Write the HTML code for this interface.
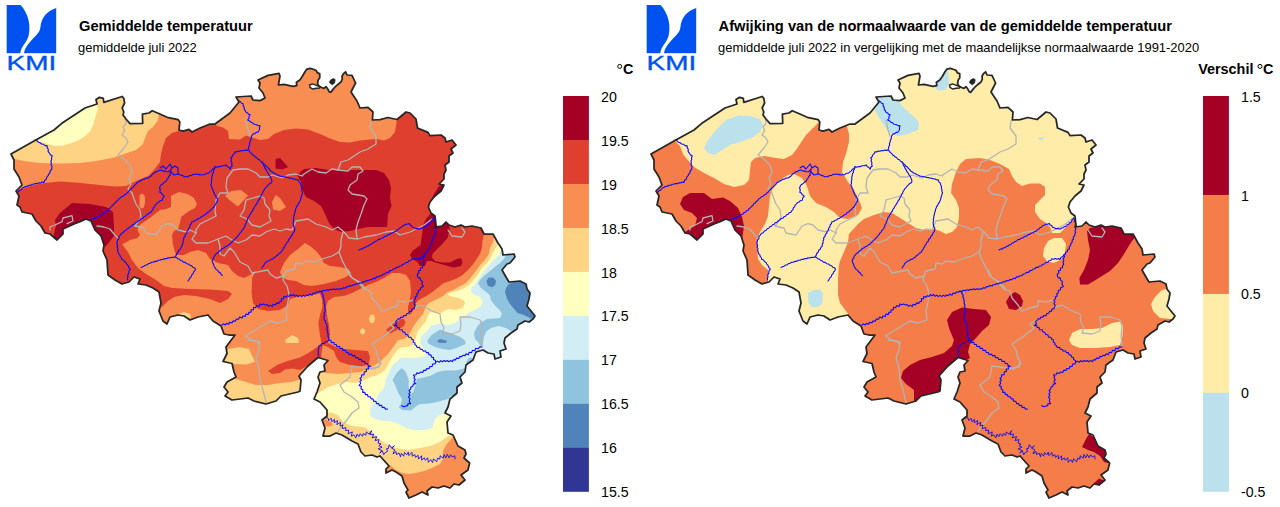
<!DOCTYPE html>
<html><head><meta charset="utf-8"><title>KMI</title>
<style>
html,body{margin:0;padding:0;background:#fff;}
body{width:1280px;height:507px;overflow:hidden;font-family:"Liberation Sans",sans-serif;}
svg{display:block}
text{font-family:"Liberation Sans",sans-serif}
</style></head><body>
<svg width="1280" height="507" viewBox="0 0 1280 507">
<defs>
<clipPath id="be"><polygon points="11,154 34,141 54,130 61.5,123.6 85,108 97,104 96,99.5 99.5,97.3 103.3,98.4 103.8,102.3 122.2,96.5 123.8,98.4 124.6,103 122.2,108 123.8,112 123,115 126,119 130,123.6 142.7,123.3 142.4,114.2 149,113 152.2,110.7 159.3,113.8 167.2,117.3 178.2,119.7 179.8,122 179,130 183,131.2 189,129.4 192,132 200,128 210,124 215,124 230,113 239,102 236,97 251,96 253,100 260,100.6 265,98 263,93 259,88 260,83 258,80 268,75.4 279,73.4 280,76 278.4,85 284,84.4 293,86.3 296.8,85.6 296.4,82.3 299.8,80 302.4,76.3 305,71.8 306.9,69.1 310.3,68.3 314,69.5 316.3,70.6 317.4,72.9 319.7,73.7 319.8,77.8 318.2,80 317.5,83.8 319,86 321.5,87.5 324,88.3 326,86.6 327.6,88.7 329.1,91.7 330.8,92.3 333,89.4 335.2,86.8 338.2,84.2 341.2,81.8 342.3,79 342,76.2 343.8,73.3 345.6,71.8 347,75 352,75.4 355.6,83 351,92 357,101 360,108 368,107.4 373,112 372.4,120 380,119.6 388,117.5 397,119.5 406,112 410,113 416,119 417.5,128 428,132.4 430,135.6 441,135 445,138 446,142 452,140 456,145 451,149 453,153 449,156 449,162 445,165 446,170 444,174 444,179 439,184 444,185 441,191 435,196 430,202 428.4,207 431,213 435,216 436,225 435,227 442,226 446,222 449,225 455,227 461,225 465,227 472,226 481,228 484,234 493,234 498,243 502,249 503,255 514,254 515,257 510,263 507,264 502,270 506,277 509,282 520,281 526,284 527,289 530,293 529,299 527,306 535,316 533,319 529,322 525,321 518,325 517,329 511,333 505,338 504,343 506,349 500,351 501,357 495,359 494,354 488,353 483,350 476,352 473,360 466,365 465,372 460,377 462,383 457,387 457,393 450,399 448,407 445,413 451,416 447,422 448,433 453,435 458,446 465,450 466,454 464,458 469.6,463 468,470 461,475 465,480 459,485 454,484 450,488 444,486 438,488 432,487 427,491 428,495 422,492 416,495 409,498 406,492 408,490 404,483 402,476 396,472 392,470 386,473 386,469 389,466 380,456 377,457 372,455 365,456 361,452 358,444 352,441 342,435 336,433 330,436 323,436 325,428 322,420 327,416 327,410 320,402 314,399 317,392 320,383 318,377 320,372 325,371 324,365 328,360.5 318,357.5 308,366 299,376 301,380 300,391 298,392 281,396 276,401 266,404 254,401 248,398 232,400 225,396 228,392 224,387 227,382 236,377 234,372 232,363.5 223,361.5 227,353.5 226,347 229,343 235,335 229,335 224,334 221,326 213,321 208,315 198,317 190,320 184,316 178,315 170,317 167,324 163,321 159,311 161,303 159,292 153,288 146,285 138,284 140,279 134,277 129,282 122,284 115,280 108,275 107,260 103,251 104,245 101,236 95,230 91,221 86,219 80,221.6 74,224 63,229 63,234 57,240 50,234 45,233 41,226 36,221 32,214 22,212 20,207 17,205 19,196 16,191 22,185 19,177 14,169 14,160"/></clipPath>
<g id="outl"><polygon points="11,154 34,141 54,130 61.5,123.6 85,108 97,104 96,99.5 99.5,97.3 103.3,98.4 103.8,102.3 122.2,96.5 123.8,98.4 124.6,103 122.2,108 123.8,112 123,115 126,119 130,123.6 142.7,123.3 142.4,114.2 149,113 152.2,110.7 159.3,113.8 167.2,117.3 178.2,119.7 179.8,122 179,130 183,131.2 189,129.4 192,132 200,128 210,124 215,124 230,113 239,102 236,97 251,96 253,100 260,100.6 265,98 263,93 259,88 260,83 258,80 268,75.4 279,73.4 280,76 278.4,85 284,84.4 293,86.3 296.8,85.6 296.4,82.3 299.8,80 302.4,76.3 305,71.8 306.9,69.1 310.3,68.3 314,69.5 316.3,70.6 317.4,72.9 319.7,73.7 319.8,77.8 318.2,80 317.5,83.8 319,86 321.5,87.5 324,88.3 326,86.6 327.6,88.7 329.1,91.7 330.8,92.3 333,89.4 335.2,86.8 338.2,84.2 341.2,81.8 342.3,79 342,76.2 343.8,73.3 345.6,71.8 347,75 352,75.4 355.6,83 351,92 357,101 360,108 368,107.4 373,112 372.4,120 380,119.6 388,117.5 397,119.5 406,112 410,113 416,119 417.5,128 428,132.4 430,135.6 441,135 445,138 446,142 452,140 456,145 451,149 453,153 449,156 449,162 445,165 446,170 444,174 444,179 439,184 444,185 441,191 435,196 430,202 428.4,207 431,213 435,216 436,225 435,227 442,226 446,222 449,225 455,227 461,225 465,227 472,226 481,228 484,234 493,234 498,243 502,249 503,255 514,254 515,257 510,263 507,264 502,270 506,277 509,282 520,281 526,284 527,289 530,293 529,299 527,306 535,316 533,319 529,322 525,321 518,325 517,329 511,333 505,338 504,343 506,349 500,351 501,357 495,359 494,354 488,353 483,350 476,352 473,360 466,365 465,372 460,377 462,383 457,387 457,393 450,399 448,407 445,413 451,416 447,422 448,433 453,435 458,446 465,450 466,454 464,458 469.6,463 468,470 461,475 465,480 459,485 454,484 450,488 444,486 438,488 432,487 427,491 428,495 422,492 416,495 409,498 406,492 408,490 404,483 402,476 396,472 392,470 386,473 386,469 389,466 380,456 377,457 372,455 365,456 361,452 358,444 352,441 342,435 336,433 330,436 323,436 325,428 322,420 327,416 327,410 320,402 314,399 317,392 320,383 318,377 320,372 325,371 324,365 328,360.5 318,357.5 308,366 299,376 301,380 300,391 298,392 281,396 276,401 266,404 254,401 248,398 232,400 225,396 228,392 224,387 227,382 236,377 234,372 232,363.5 223,361.5 227,353.5 226,347 229,343 235,335 229,335 224,334 221,326 213,321 208,315 198,317 190,320 184,316 178,315 170,317 167,324 163,321 159,311 161,303 159,292 153,288 146,285 138,284 140,279 134,277 129,282 122,284 115,280 108,275 107,260 103,251 104,245 101,236 95,230 91,221 86,219 80,221.6 74,224 63,229 63,234 57,240 50,234 45,233 41,226 36,221 32,214 22,212 20,207 17,205 19,196 16,191 22,185 19,177 14,169 14,160" fill="none" stroke="#262626" stroke-width="1.75" stroke-linejoin="round"/>
<path d="M329.4,82.6 L330.6,80 L333.3,78.6 L335.2,79.6 L334.6,83 L332.2,84.8 Z" fill="#262626" stroke="#262626" stroke-width="0.8" stroke-linejoin="round"/>
<path d="M309.6,85 L312.6,83.9 L316.3,85.3 L319.4,86.6 L319.6,88 L316.3,88.3 L312.6,89 L310,87.4 Z" fill="#fff" stroke="#262626" stroke-width="1.4" stroke-linejoin="round"/>
</g>
<g id="lines">
<polyline points="125.4,119.7 126,123.6 123,126.8 124.6,130.7 122,135 126,138 128,142 124,148 118,155 124,159 130,165 132,172 129,178 131,184 128,189 132,193 134,199 136,204 140,210 141,217 138,222 135,226" fill="none" stroke="#b4b4b4" stroke-width="1.3" stroke-linejoin="round" stroke-linecap="round"/>
<polyline points="50,230 50,227 55,225 62,221.6 63,218 72,215.6 73,221 67,223.6" fill="none" stroke="#b4b4b4" stroke-width="1.3" stroke-linejoin="round" stroke-linecap="round"/>
<polyline points="97,226 104,227 110,229 114,234 118,238" fill="none" stroke="#b4b4b4" stroke-width="1.3" stroke-linejoin="round" stroke-linecap="round"/>
<polyline points="135,226 144,228 146,233 156,235 162,226 168,223.6 173,225 178,230 187,232 190,230 196,233" fill="none" stroke="#b4b4b4" stroke-width="1.3" stroke-linejoin="round" stroke-linecap="round"/>
<polyline points="240,169 233,170 227,178 226,187 228,193 220,193 216,200 215,211 216,216 208,220 200,224 196,230 196,233" fill="none" stroke="#b4b4b4" stroke-width="1.3" stroke-linejoin="round" stroke-linecap="round"/>
<polyline points="196,233 192,239 196,243 208,243 218,239 226,236 232,240 238,243 246,240 252,235 260,236 266,232 274,229 280,231 286,229 292,230 296,221 308,219 316,224 326,227 332,230 338,227 344,232 349,238 358,239 364,237 376,235 386,232 394,231 400,235 410,232 416,229 424,225 432,219" fill="none" stroke="#b4b4b4" stroke-width="1.3" stroke-linejoin="round" stroke-linecap="round"/>
<polyline points="246,120 248,130 250,136" fill="none" stroke="#b4b4b4" stroke-width="1.3" stroke-linejoin="round" stroke-linecap="round"/>
<polyline points="240,169 248,169 256,173 260,177 268,177 272,175 282,178 288,175 296,174 302,176 304,174 312,169 318,172 326,173 332,169 338,170 341,162 348,160 354,156 360,152 368,149 376,144 376,136 370,128 371,121" fill="none" stroke="#b4b4b4" stroke-width="1.3" stroke-linejoin="round" stroke-linecap="round"/>
<polyline points="338,170 348,171 352,167 360,167 363,171 358,174 357,180 350,185 348,190 352,194 364,196 367,199 364,205 361,214 358,222 356,230 357,238" fill="none" stroke="#b4b4b4" stroke-width="1.3" stroke-linejoin="round" stroke-linecap="round"/>
<polyline points="246,200 260,196 264,198 265,204 270,210 269,216 271,221 260,227 252,225 247,219 240,216 244,210 246,200" fill="none" stroke="#b4b4b4" stroke-width="1.3" stroke-linejoin="round" stroke-linecap="round"/>
<polyline points="343,232 341,240 341,246 339,252 332,256 322,259 314,262 306,261 302,264 296,263 295,269 286,271 284,276 276,278 270,274 268,270 252,273 248,266 240,262 234,252 230,248 224,256 220,254 220,246 218,239" fill="none" stroke="#b4b4b4" stroke-width="1.3" stroke-linejoin="round" stroke-linecap="round"/>
<polyline points="339,252 342,260 346,268 350,276 358,282 364,289 370,291 372,298 378,305 382,311 390,308 398,306 398,301 406,302 413,300" fill="none" stroke="#b4b4b4" stroke-width="1.3" stroke-linejoin="round" stroke-linecap="round"/>
<polyline points="348,270 352,278 360,282 366,290" fill="none" stroke="#b4b4b4" stroke-width="1.3" stroke-linejoin="round" stroke-linecap="round"/>
<polyline points="284,276 283,280 287,286 289,294 288,302 286,310 287,320 278,323 270,321 260,327 252,332 245,336 254,341 260,342 259,350 256,358 259,368 260,380 263,390 266,402" fill="none" stroke="#b4b4b4" stroke-width="1.3" stroke-linejoin="round" stroke-linecap="round"/>
<polyline points="248,340 256,341 259,344" fill="none" stroke="#b4b4b4" stroke-width="1.3" stroke-linejoin="round" stroke-linecap="round"/>
<polyline points="415,307 422,305 430,310 440,314 441,322 444,328 442,333 452,334 460,331 461,324 460,317 470,317 480,320 482,326 481,336 482,346" fill="none" stroke="#b4b4b4" stroke-width="1.3" stroke-linejoin="round" stroke-linecap="round"/>
<polyline points="397,320 390,324 394,328 384,336 372,344 376,350 378,358 381,364 374,369 352,366 351,371 350,377 340,385 344,392 352,397 358,402 359,408 352,413 347,420 340,428 338,432" fill="none" stroke="#b4b4b4" stroke-width="1.3" stroke-linejoin="round" stroke-linecap="round"/>
<polyline points="380,360 379,367 368,369" fill="none" stroke="#b4b4b4" stroke-width="1.3" stroke-linejoin="round" stroke-linecap="round"/>
<polyline points="448,230 452,236 462,237 465,232 462,228" fill="none" stroke="#b4b4b4" stroke-width="1.3" stroke-linejoin="round" stroke-linecap="round"/>
<polyline points="35.0,140.0 36.8,140.7 38.2,142.2 40.1,142.8 41.6,144.0 43.6,144.3 45.1,145.6 47.2,145.9 47.2,147.8 48.3,149.4 48.1,151.4 49.2,152.8 50.3,154.7 52.3,156.0 51.5,157.7 51.7,159.5 50.9,161.2 51.4,162.9 51.0,164.7 52.0,166.3 51.8,167.9 51.5,169.6 50.2,170.8 50.0,172.6 48.8,173.9 48.1,175.7 46.8,177.1 46.3,179.0 44.7,180.2 44.1,182.4 42.3,182.1 40.7,183.0 39.0,182.8 37.4,183.7 35.6,183.4 34.0,184.1 32.2,184.2 30.7,185.2 28.9,185.2 27.4,186.3 25.6,186.4 24.2,187.2 22.3,188.0 21.1,189.7 19.4,190.6 18.0,192.0" fill="none" stroke="#0a0aff" stroke-width="1.1" stroke-linejoin="round" stroke-linecap="round"/>
<polyline points="171.0,169.0 169.7,170.7 168.1,171.7 166.3,171.8 164.9,170.9 163.1,171.1 161.7,170.1 160.2,170.3 158.4,170.6 157.1,171.6 155.3,171.9 154.2,173.2 152.4,174.1 151.4,175.8 149.9,176.8 148.1,178.0 145.9,178.1 144.2,179.3 142.3,179.4 141.1,180.6 139.4,181.1 138.2,182.2 136.5,182.9 135.8,184.6 134.3,185.5 133.4,187.0 131.9,187.9 130.9,189.3 129.4,190.2 128.6,191.8 127.1,192.7 126.1,194.2 124.4,194.8 123.1,196.2 121.4,196.8 120.1,198.1 118.6,199.0 117.8,200.6 116.2,201.4 115.3,202.9 113.7,203.7 113.1,205.5 111.5,206.3 110.6,207.8 109.0,208.6 108.2,210.3 106.4,210.7 105.5,212.2 103.8,212.7 102.6,214.3 100.7,214.8 99.4,216.2 97.4,216.7 96.1,218.3 94.3,218.1 92.9,219.1 91.2,219.0 89.7,219.8 88.0,220.0" fill="none" stroke="#0a0aff" stroke-width="1.1" stroke-linejoin="round" stroke-linecap="round"/>
<polyline points="160,168 163,166 166,169 170,164 172,168 175,166 178,168 178,174 174,175 171,172" fill="none" stroke="#0a0aff" stroke-width="1.1" stroke-linejoin="round" stroke-linecap="round"/>
<polyline points="171.0,169.0 170.9,171.0 170.1,173.0 170.2,175.2 168.8,176.3 168.1,178.1 166.9,179.4 166.2,181.3 164.4,182.1 163.1,183.7 161.3,184.5 160.3,186.0 159.6,188.0 160.3,190.0 159.8,192.2 161.5,193.2 162.5,194.9 164.3,196.2 162.8,197.9 162.2,200.3 160.3,200.7 159.1,202.1 157.3,202.7 156.3,204.1 155.0,205.3 154.5,206.9 153.3,208.0 153.0,209.7 151.8,210.7 150.9,212.3 149.1,212.7 148.2,214.3 146.5,214.8 145.5,216.3 143.9,216.8 142.8,218.3 140.9,218.7 139.8,220.1 138.2,220.9 137.0,222.2 135.2,222.7 134.2,224.2 132.5,224.8 131.5,226.2 129.8,226.8 128.8,228.2 127.2,228.8 126.2,230.2 124.3,231.0 123.2,232.8 121.3,233.5 120.3,235.1 118.9,236.6 118.9,238.7 117.5,240.1 117.2,242.0 116.8,243.7 117.7,245.3 117.1,247.0 118.0,248.6 117.5,250.4 118.2,251.9 118.5,253.6 119.8,254.7 120.2,256.3 121.3,257.5 121.7,259.3 123.5,260.0 124.4,261.6 126.0,262.5 126.8,264.1 128.2,265.6 128.8,267.4 130.3,269.1 129.0,270.9 128.8,273.1 127.7,275.0 128.0,276.7 127.4,278.3 127.6,280.0" fill="none" stroke="#0a0aff" stroke-width="1.1" stroke-linejoin="round" stroke-linecap="round"/>
<polyline points="178.0,174.0 179.7,174.4 181.1,175.4 182.9,175.6 184.3,176.6 185.9,176.8 187.9,176.8 189.5,175.5 191.5,175.5 193.1,174.4 195.0,174.3 196.6,174.0 198.2,174.6 199.8,174.4 201.4,175.0 202.9,174.7 204.9,174.6 206.4,173.2 208.4,173.1 209.9,171.9 211.4,170.9 212.3,169.3 214.0,168.5 215.0,166.6 216.7,167.2 218.3,166.5 220.1,166.8 221.9,165.7 224.1,165.8 226.1,164.9 227.1,166.5 228.8,167.5 230.3,169.2 230.7,167.3 232.3,166.0 231.6,164.4 232.0,162.8 231.1,161.2 231.6,159.6 230.7,157.8 232.2,156.7 232.8,154.9 234.2,153.7 235.0,151.8 236.7,151.9 238.3,151.1 240.0,151.3 241.6,150.6 243.2,150.8 244.8,150.1 246.4,150.4 247.7,149.9 248.7,148.5 248.6,146.7 249.6,145.3 249.4,143.6 250.2,142.1 250.3,140.2 251.3,138.6 251.3,136.7 252.1,135.2 253.2,133.9 254.9,133.6 256.1,132.4 257.8,132.1 258.8,131.0 259.5,129.4 259.5,127.6 260.1,125.7 257.9,125.6 256.1,124.5 253.9,124.2 252.6,122.8 250.9,122.2 249.6,120.9 247.7,119.9 249.0,118.5 249.0,116.5 250.2,114.7 248.5,114.3 247.6,112.9 246.1,112.2 245.4,110.9 244.2,109.3 244.2,107.4 243.1,105.9 243.2,103.8 241.5,103.3 240.5,101.8 239.0,101.0" fill="none" stroke="#0a0aff" stroke-width="1.1" stroke-linejoin="round" stroke-linecap="round"/>
<polyline points="248.0,150.0 249.4,151.0 250.2,152.6 251.8,153.4 252.6,155.0 254.2,155.8 255.3,157.1 256.8,157.8 257.8,159.3 259.5,159.8 260.5,161.2 262.1,161.9 263.1,163.4 264.6,164.4 265.6,165.9 267.2,166.8 268.2,168.3 269.6,169.4 270.6,170.9 272.1,171.7 273.5,173.0 275.3,173.5 276.7,174.7 278.5,175.1 280.0,176.2 281.7,176.2 283.3,176.8 285.1,176.7 286.6,177.5 288.4,177.5 289.9,178.3 291.7,178.1 293.2,179.0 294.9,178.9 296.3,179.8 298.2,179.9 298.9,181.8 300.3,183.2 300.7,185.0 301.6,186.5 301.3,188.3 302.0,189.8 301.9,191.4 302.6,193.0 301.8,194.6 301.6,196.2 300.8,197.7 300.7,199.5 299.9,200.9 299.4,202.5 298.2,203.7 297.8,205.3 296.5,206.5 296.2,208.1 295.4,209.6 295.4,211.3 294.5,212.7 294.5,214.4 293.7,216.0 293.9,217.6 293.3,219.2 293.7,220.8 293.1,222.4 293.3,223.9 293.5,226.1 294.6,227.9 294.9,229.9 294.1,231.7 292.9,233.1 292.3,235.0 290.9,236.3 290.2,238.2 288.7,239.3 288.3,241.2 286.8,242.4 286.2,244.1 285.0,245.3 284.6,246.9 283.5,248.1 283.0,249.7 281.8,250.8 280.9,252.4 279.2,253.2 278.2,254.7 276.6,255.6 275.5,257.0 273.9,257.8 272.5,259.1 270.7,259.4 269.3,260.7 267.5,261.0 266.2,262.1 264.8,263.4 264.1,265.1 262.9,266.4 262.0,268.0" fill="none" stroke="#0a0aff" stroke-width="1.1" stroke-linejoin="round" stroke-linecap="round"/>
<polyline points="262.0,162.0 263.0,163.5 263.4,165.3 264.5,166.7 265.1,168.4 266.2,169.9 266.9,171.7 268.2,173.1 268.9,174.9 270.2,176.3 270.9,178.0 271.7,179.9 271.9,181.8 270.8,183.1 269.2,183.9 268.2,185.1 266.9,186.2 266.1,187.6 264.8,188.6 264.1,190.1 263.0,191.5 262.6,193.3 261.4,194.7 260.9,196.5 259.9,197.9 259.3,199.5 258.1,200.7 257.6,202.4 256.5,203.7 255.8,205.2 254.7,206.5 254.1,208.1 252.9,209.3 252.5,211.0 251.3,212.2 250.7,213.8 249.6,215.1 249.1,216.7 247.8,217.9 247.5,219.7 246.5,221.3 246.2,223.1 245.1,224.6 244.9,226.4 243.9,227.9 243.1,229.4 241.8,230.5 241.1,232.1 239.8,233.2 239.1,234.7 237.8,235.8 237.0,237.3 235.6,238.2 234.7,239.6 233.3,240.5 232.4,241.8 231.0,242.7 230.1,244.1 228.3,244.9 226.9,246.2 225.1,246.8 223.7,248.1 221.9,248.8 220.7,250.3 219.1,251.3 218.0,252.8 216.3,253.6 215.1,255.1 214.1,256.4 213.6,258.1 212.6,259.4 212.2,260.9 212.7,262.8 213.7,264.4 214.0,266.3 215.1,267.9 216.1,269.4 217.6,270.4 218.6,271.9 220.2,272.8 221.0,274.4 222.4,275.6" fill="none" stroke="#0a0aff" stroke-width="1.1" stroke-linejoin="round" stroke-linecap="round"/>
<polyline points="215.0,167.0 214.6,168.9 213.5,170.5 213.4,172.5 212.3,174.1 212.2,176.0 211.6,177.8 211.9,179.6 211.2,181.4 211.5,183.2 210.8,185.1 211.8,186.5 212.0,188.3 213.1,189.7 213.2,191.5 214.2,192.9 214.5,194.5 215.9,195.6 216.1,197.3 217.4,198.5 217.7,199.8 217.3,201.5 216.1,202.6 215.8,204.3 214.6,205.5 214.1,207.1 212.5,208.0 211.6,209.6 209.9,210.4 208.9,211.9 207.1,212.6 206.1,214.2 204.3,214.8 202.9,216.1 201.1,216.9 199.7,218.2 197.9,218.7 196.6,220.0 194.9,220.3 193.6,221.5 191.8,221.9 191.4,223.7 190.1,225.0 189.9,226.9 188.6,228.3 188.3,230.1 187.0,231.5 186.7,233.4 185.3,234.7 185.0,236.5 183.6,237.9 183.8,239.6 183.0,241.1 183.1,242.9 182.2,244.4 182.2,246.1 180.9,247.4 180.3,249.2 178.7,250.3 178.2,252.1 176.7,253.5 176.2,255.4 175.0,256.7 173.3,257.5 171.5,257.2 169.8,258.0 167.9,257.7 166.5,258.8 164.7,258.5 163.3,259.5 161.6,259.4 160.1,260.3 158.2,260.2 156.8,261.4 154.9,261.2 153.4,262.2 151.6,262.3 150.1,263.3 148.4,263.6 147.1,264.8 145.4,265.1 144.1,266.2 142.4,266.7 141.0,267.6" fill="none" stroke="#0a0aff" stroke-width="1.1" stroke-linejoin="round" stroke-linecap="round"/>
<polyline points="175.0,257.0 176.6,257.5 177.7,258.8 179.4,259.1 180.5,260.3 182.1,260.8 183.4,262.1 185.3,262.4 186.7,263.7 188.5,264.0 189.8,265.2 191.6,265.8 192.7,267.2 194.4,267.7 195.5,268.9 194.9,270.6 193.7,271.9 193.1,273.6 191.8,274.9 191.3,276.7 189.8,277.9 189.1,279.6 188.0,281.0" fill="none" stroke="#0a0aff" stroke-width="1.1" stroke-linejoin="round" stroke-linecap="round"/>
<polyline points="433.6,218.0 434.5,219.5 434.3,221.3 435.6,222.6 435.3,224.5 436.4,226.1 435.2,227.5 435.9,229.2 434.9,230.7 435.7,232.5 434.8,233.9 434.8,235.7 433.3,237.0 433.6,239.0 432.1,240.2 432.3,242.1 430.9,243.4 430.7,245.3 429.2,246.6 429.4,248.7 427.6,249.7 427.4,251.6 425.7,252.2 425.4,254.1 423.8,254.8 422.9,256.6 421.0,257.3 420.0,259.5 418.4,258.6 416.8,259.3 415.2,258.6 413.6,259.3 411.8,258.7 410.8,260.5 408.8,260.7 407.8,262.5 405.7,262.5 404.5,264.0 402.6,264.2 401.4,265.8 399.5,266.0 398.2,267.4 396.1,267.3 394.9,268.9 393.0,269.0 391.7,270.5 389.8,270.6 388.6,272.4 386.5,272.4 385.1,273.7 383.2,274.1 381.9,275.6 379.9,275.8 378.4,276.9 376.5,276.9 375.2,278.6 373.2,278.3 371.8,279.7 369.9,279.5 368.4,280.8 366.5,280.5 365.1,281.8 363.2,281.5 361.8,283.1 359.9,282.7 358.5,284.0 356.5,283.5 355.1,284.8 353.2,284.7 351.9,286.1 349.8,285.4 348.4,286.8 346.5,286.5 345.2,288.1 343.2,287.7 341.8,289.0 340.0,288.7 338.4,289.5 336.8,288.7 335.2,289.8 333.6,288.8 332.0,289.8 330.2,289.3 328.6,290.5 326.8,289.7 325.2,290.8 323.4,290.2 321.8,291.4 319.8,291.4 322.2,291.9 321.8,293.7 323.2,295.1 322.8,296.9 323.9,298.3 323.6,300.0 324.5,301.6 324.0,303.4 325.0,305.0 324.4,306.7 325.4,308.3 324.7,310.0 325.4,311.7 324.0,313.1 324.8,314.9 323.7,316.3 324.3,317.9 324.1,319.8 325.6,321.1 325.5,322.9 327.0,324.2 326.6,326.1 327.6,327.6 326.8,329.3 328.0,330.8 327.3,332.5 328.3,333.9 327.8,336.1 329.0,337.9 328.9,339.8 327.7,341.5 325.5,341.7 324.3,343.5 322.0,343.4 320.9,345.4 318.7,346.0 318.9,348.0 318.0,349.9 318.4,351.9 318.0,354.1 319.0,356.0" fill="none" stroke="#0a0aff" stroke-width="1.1" stroke-linejoin="round" stroke-linecap="round"/>
<polyline points="222.0,325.0 223.4,323.9 225.4,324.9 226.7,323.3 228.6,324.3 229.6,322.2 232.0,322.9 233.1,320.9 235.3,321.2 236.4,319.1 238.6,319.3 239.5,317.1 242.1,318.1 243.0,316.0 245.2,316.5 246.0,314.1 248.5,314.5 248.8,312.4 251.0,312.2 251.1,309.9 253.4,309.8 253.6,307.3 255.8,307.6 256.8,305.6 259.3,306.5 259.9,303.9 261.8,304.8 263.8,303.9 265.3,305.1 267.1,304.5 268.5,306.3 270.4,305.1 272.3,306.6 273.2,304.3 275.5,304.9 276.5,302.9 278.7,303.4 279.7,301.7 281.6,301.2 281.3,298.9 283.4,298.6 283.9,296.5 285.8,297.2 287.1,295.8 289.0,296.5 290.2,294.5 291.9,295.8 293.7,294.5 295.1,296.3 296.9,295.1 298.3,296.6 299.9,295.4 301.7,296.6 303.3,295.2 305.1,296.4 306.6,294.9 308.4,295.7 309.7,294.1 312.0,295.3 313.1,293.0 315.2,293.6 316.5,291.8 318.5,292.2 320.0,291.0" fill="none" stroke="#0a0aff" stroke-width="1.1" stroke-linejoin="round" stroke-linecap="round"/>
<polyline points="359.0,250.0 360.4,249.1 362.2,249.0 363.4,247.8 365.1,247.6 366.4,246.4 368.1,246.2 369.3,244.9 371.0,244.5 372.1,243.1 373.8,242.7 375.0,241.5 376.7,241.0 377.8,239.7 379.8,239.4 381.3,238.2 383.2,237.8 384.5,236.3 386.5,236.1 387.9,234.7 389.7,234.4 391.1,233.3 392.9,232.8 394.3,231.7 396.1,231.2 397.2,229.8 398.8,229.1 399.8,227.8 401.5,227.2 402.5,225.7 404.1,225.3 405.6,224.2 407.4,224.3 409.2,223.4 410.1,224.9 411.6,225.6 412.5,227.2 414.1,227.6 415.9,228.7 418.1,228.4 420.1,229.2 421.4,228.1 423.1,227.7 424.4,226.6 426.2,226.3 427.1,224.8 428.7,224.3 429.6,222.8 431.3,222.2 432.0,219.8 433.6,218.0" fill="none" stroke="#0a0aff" stroke-width="1.1" stroke-linejoin="round" stroke-linecap="round"/>
<polyline points="424.0,255.0 424.5,256.9 422.9,258.6 423.9,260.5 423.0,262.3 423.7,264.2 422.6,265.7 422.6,267.8 420.4,268.0 420.5,270.2 418.4,270.8 419.0,272.9 417.3,274.2 417.4,275.6 418.0,277.6 420.3,278.1 420.6,280.1 422.4,281.7 422.0,284.1 423.5,286.5 420.6,287.7 420.5,289.8 418.3,290.5 418.3,292.7 416.6,293.9 417.2,295.9 415.2,297.0 415.6,298.9 413.8,300.1 414.9,301.8 413.9,303.7 415.2,305.2 414.7,306.7 414.1,308.6 412.0,309.0 411.6,311.1 409.6,311.4 408.7,313.3 406.8,313.6 405.9,315.7 403.7,315.5 402.9,317.3 400.9,317.0 400.1,318.9 398.1,318.7 397.3,320.1 395.6,321.4 396.5,323.7 394.4,325.7 396.7,325.4 397.2,327.4 399.1,327.6 399.5,329.6 402.0,329.7 402.7,331.8 404.8,332.4 405.6,334.4 407.9,334.8 408.5,337.1 410.9,337.3 411.7,339.2 413.5,340.0 413.1,342.1 415.0,342.9 414.8,344.8 416.3,345.5 417.2,347.5 419.4,347.3 420.3,349.3 422.3,349.4 423.3,351.2 425.3,350.8 426.3,352.6 428.4,352.6 428.9,354.6 431.0,355.0 431.5,357.0 433.5,357.6 433.6,359.6 435.4,360.4 435.6,361.5 435.1,363.9 432.6,364.0 432.1,366.4 429.8,366.6 429.0,368.7 426.7,368.5 425.8,370.4 423.7,370.3 422.7,372.5 420.5,372.0 419.2,373.5 417.0,372.9 415.9,374.8 413.5,375.1 414.6,376.6 414.0,378.2 415.3,379.7 413.9,381.5 415.7,383.6 413.3,384.1 412.8,386.2 410.8,387.2 410.8,389.1 409.0,390.5 410.3,392.3 408.9,393.7 409.8,395.5 408.4,397.1 410.0,398.9 409.2,401.1 410.6,403.7 408.1,403.5 407.6,405.6 406.1,405.9 403.6,406.8 401.6,405.6" fill="none" stroke="#0a0aff" stroke-width="1.1" stroke-linejoin="round" stroke-linecap="round"/>
<polyline points="436.0,362.0 437.5,361.1 439.3,362.3 440.7,360.6 442.5,361.7 444.0,360.5 445.6,361.4 447.2,360.5 448.8,361.8 450.4,360.6 452.3,361.6 453.4,359.8 455.4,359.9 456.5,358.1 458.8,358.5 459.8,356.4 461.7,356.7 463.0,355.3 465.0,355.6 466.1,353.8 468.4,354.7 469.2,352.3 471.6,352.7 472.4,350.3 474.9,350.7 475.7,348.2 478.2,348.8 479.7,346.9 482.0,347.0" fill="none" stroke="#0a0aff" stroke-width="1.1" stroke-linejoin="round" stroke-linecap="round"/>
<polyline points="329.0,340.0 330.9,340.3 331.3,342.7 333.8,342.2 334.3,344.5 336.3,344.5 337.0,346.7 339.5,346.3 340.2,348.5 342.5,348.3 343.1,350.5 345.5,350.3 346.2,352.4 348.2,352.5 349.2,354.7 351.5,354.0 352.5,355.9 354.8,355.4 355.6,357.7 357.9,357.6 358.8,359.6 361.2,359.3 362.1,361.4 364.5,361.3 365.2,363.4 367.3,363.5 368.2,365.4 370.4,366.3 368.2,366.6 368.5,368.9 366.2,369.1 366.5,371.4 364.1,372.0 364.2,374.6 361.6,375.0 361.5,377.1 360.0,378.5 361.4,380.3 359.9,381.7 360.7,383.5 359.1,385.4 361.4,386.5 361.0,388.7 362.9,390.0 362.7,392.4 364.9,392.3 365.4,394.6 367.5,394.6 368.1,396.8 370.3,396.7 371.0,398.6 373.1,399.1 373.6,401.3 375.9,401.4 376.6,403.6 378.7,403.6 379.4,405.6 381.7,405.3 382.2,407.6 384.2,407.3 385.6,409.2 387.6,409.0" fill="none" stroke="#0a0aff" stroke-width="1.1" stroke-linejoin="round" stroke-linecap="round"/>
<polyline points="326.0,418.0 327.8,417.6 328.8,420.6 331.1,418.2 331.9,421.7 334.5,419.3 334.1,422.6 337.7,420.6 336.8,424.6 340.7,422.2 340.0,425.9 342.8,425.0 342.3,428.6 345.8,427.6 345.7,430.7 348.7,430.1 348.2,433.8 352.3,431.9 351.3,436.2 353.9,434.9 355.9,437.9 357.0,434.1 358.9,436.6 360.2,433.7 362.5,436.3 363.3,433.5 365.8,435.3 366.3,431.9 369.0,434.1 371.6,430.6 369.9,434.6 373.6,434.1 372.2,437.8 376.7,436.6 375.1,440.5 379.1,439.6 378.1,443.1 381.0,444.0 378.9,445.6 382.1,447.2 378.2,448.8 381.8,450.4 379.8,453.2 382.3,450.8 383.7,454.7 385.1,452.7 387.6,451.3 386.5,448.7 388.3,448.5 389.3,444.7 391.6,447.9 394.4,445.8 391.8,448.3 394.7,449.8 393.0,453.9 396.1,451.6 396.5,454.5 399.1,453.1 400.5,456.9 401.3,453.4 403.7,456.2 404.5,452.5 406.8,454.8 408.3,452.1 408.9,455.6 411.9,452.4 412.3,456.2 414.8,454.5 415.5,457.4 418.1,455.3 418.5,459.1 421.5,455.8 421.7,460.1 424.3,457.8 425.4,460.3 427.7,457.8 428.3,462.3 430.7,459.6 432.5,462.5 433.5,458.9 436.7,461.7 437.6,458.2 439.9,459.1 440.1,455.7 443.2,458.2 444.0,454.5 445.7,457.9 447.3,454.3 449.0,457.8 450.7,454.8 452.3,457.0 454.8,455.7 455.0,459.0" fill="none" stroke="#0a0aff" stroke-width="0.9" stroke-linejoin="round" stroke-linecap="round"/>
</g>
</defs>
<rect width="1280" height="507" fill="#fff"/>
<!-- LEFT MAP -->
<g clip-path="url(#be)">
<rect x="0" y="60" width="560" height="447" fill="#de3f2e"/>
<polygon points="0,190 18,190 30,186 44,183 60,181.6 76,182.4 90,184 104,185.6 116,186.4 126,186 130,184 136,181 148,176 154,170 160,162 161,154 163,146 166,138 172,133 180,130.5 180,100 0,100" fill="#f98e52"/>
<polygon points="159.3,113 157.7,120.5 153,127 148,131 145,138 143,144 136,150 124,154 112,158 96,161 80,163 60,163.6 40,163 24,161 10,158 0,158 0,80 160,80" fill="#fed484"/>
<polygon points="97,103 97.8,109.4 95.4,117.3 93,125.2 90,131.5 85,136 79,140 71,143.3 63,145.4 55,146 47.3,144 41,141.8 36,139 30,130 90,95" fill="#ffffbf"/>
<polygon points="215,124 217,126 223,127.4 228,131 229,139 240,139.4 246,135.4 252,137.4 260,140 268,139 274,134 284,130 296,128.6 308,129.4 320,134 330,138.6 340,142 350,142.6 360,140.6 370,139.4 377,139 384,140.6 390,138 395,132 397,119.5 397,60 215,60" fill="#f98e52"/>
<polygon points="139.6,195 142.5,193.6 144.8,196 145.1,202.5 143.8,207.5 141,208.8 139.4,206" fill="#f98e52"/>
<polygon points="225,196 231,191 241,190 248,195.5 243,201 238,206.5 230,200.5" fill="#f98e52"/>
<polygon points="275.6,195 280,198 286,207 280,211 273,209.6 272,202" fill="#f98e52"/>
<polygon points="150,305 162,307 168,301 174,297 184,295 196,296 210,299 220,303 228,299 232,294 228,291 210,289.4 190,289 172,288 164,286 156,280 146,274 138,268 132,260 128,252 122,244 125,243 130,240 137.5,238 140,235 137.5,230 139,225.6 144,222 150,218 155,214 160,210 166,209 171,207 171,196 179,192 187.5,194 194,198 197,204 195,208 190,210.6 185,214 181,217 180,222.5 178,229 174,231 172,235 173,245 176,255 184,255 190,252 198,250 206,253 210,259 218,263 228,265 232,271 238,276 244,278 250,275 256,271 280,272 284,263 290,255 298,249 305,243 310,246 316,251 321,257 324,263 330,266 340,267 348,269 351,273 392,273 400,273 406,275 410,281 411,291 410,299 408,307 408,310 409,315 411,313.6 415,308 416,303 418.75,300 425,296.75 431,293 437.5,288 443,283.5 450,281 456,278.75 462.5,275 468,270 472.5,265 476,260 480,253.75 482,247.5 482.5,241 483.75,235 488,224 560,224 560,520 100,520 100,305" fill="#f98e52"/>
<polygon points="252,278 256,271 257,267 280,267 280,272 282,277 288,280 296,281 304,285 312,286 324,284 336,281 346,277 351,273 352,269 392,269 392,273 384,278 376,282 368,285 360,289 352,293 344,296 334,297 328,301 326,307 327,315 329,325 330,335 328,343 322,343 320,336 318.4,323 320,315 322.4,307 322,299 320,293.5 312,295 300,296 290,299 288,305 280,310 268,311 258,309 253,303 251.6,293" fill="#de3f2e"/>
<polygon points="321,340 328,343 336,347 344,349 356,350 368,351 370,357 369,364 360,367 350,365 340,362 336,357 334,351 328,347 322,345" fill="#de3f2e"/>
<polygon points="268,371 278,364.5 289,360.5 300,357.5 310,352 318,346.5 323,342 321,358 308,365.5 300,370 292,368.5 285,369.5 280,373 272,374" fill="#de3f2e"/>
<polygon points="386,330 394,323 403,318.5 405.5,322 404,326 398,329.5 390,333.5" fill="#de3f2e"/>
<polygon points="494,237.5 493,242.5 490,247.5 489,253.75 485,260 481,263.75 477.5,268.75 473.75,273.75 470,278.75 465,283.75 458.75,286.75 452.5,290.5 447.5,292 443.75,295.5 437.5,299 431,301.75 427,305 425,309 423,314 418.75,319 415,324 412,329 410,333 407.5,336.75 403.75,339 398,340 394,346 388,354 380,362 370,368 360,372 350,373 338,374 326,373 320,372 312,378 308,395 305,420 310,445 320,445 340,460 380,480 400,510 560,510 560,237" fill="#fed484"/>
<polygon points="369,319 370,315.5 372,314.3 374.3,315.5 375,319 374,322.3 372,323.3 370,322.3" fill="#fed484"/>
<polygon points="360,331.3 361,329 362.8,328.3 364.6,329.3 365.2,331.5 364.3,333.7 362.5,334.4 360.8,333.5" fill="#fed484"/>
<polygon points="178,314 184,312 190,314 191,318 180,318" fill="#fed484"/>
<polygon points="228,349 240,347 249,349 252,355.5 255,361.5 247,364.5 235,364 225,362.5 224,357" fill="#fed484"/>
<polygon points="285,340 292,335 298,338 299,343 286,343" fill="#fed484"/>
<polygon points="220,381 236,379 246,382 256,385 268,385 280,383 292,382 302,379 305,410 220,410" fill="#fed484"/>
<polygon points="498,243.75 496,247.5 493,252.5 490.6,257.5 487.5,262.5 483.75,266 480,271 477,276 472.5,281 468.75,285.6 466,286.75 462.5,289 455,291.75 449,293 448,295 452.5,296.75 458.75,298 463.75,300.5 465,303.6 462.5,308 456,310 448.75,309 443.75,311 441,313.6 435,313 430,312 427.5,316.75 425.6,321.75 421,326.75 417.5,331.75 416,336.75 415,341 412.5,345 407.5,347 401,347.5 397.5,350 393.75,355 390.6,360 388,365 385,370 380,373.75 375,376 372,376.5 364,380 356,383 346,382 338,384 328,387 320,392 317,394 312,396 308,410 315,416 322,416 330,412 338,415 343,422 352,426 364,427 372,432 380,440 390,446 400,449 408,450 420,448 430,446 440,442 448,436 456,434 470,420 560,400 560,243" fill="#ffffbf"/>
<polygon points="453,437 446,445 443,451 443.5,458 440,464 432,468 424,471 416,473 409,474 402,473 396,470 391,466 385,462 380,475 400,510 480,510 480,437" fill="#f98e52"/>
<polygon points="321,419 326,419.5 331,422 333,425.5 328,426.5 322,425.5" fill="#f98e52"/>
<polygon points="501,250.6 498.75,255 495,258.75 491,262.5 487.5,267 483.75,271 481,275 478,280 475,285 472,286.75 470.6,291.75 475,295 480,297 482.5,301.75 481,306 475,310 468,313 465,316.75 461,316 458.75,320.5 453.75,323.6 447.5,325 441,323.6 437.5,324 431,325.5 427.5,330.5 421,336.75 420,341.75 421,345 425,350 426,353.75 425,356 420,357.5 412.5,358 406,357.5 401,358 397,361 393,365 390,370 387.5,375 385.6,380 385,385 382.5,390 380,392.5 377.5,395.6 376,400 375,401 370,408.75 370.6,416 375,419 382.5,421 390,421 396,423 402.5,426 408.75,429 415,430.6 425,430 432.5,428 433.75,422.5 435,418.75 440,415 445,413 452,410 470,400 480,370 500,365 540,330 545,300 535,270 520,250 503,252" fill="#d3edf4"/>
<polygon points="506,255 503.75,259 500,263 496,266 492.5,269 487.5,273 483.75,276 480,280 478,283.5 481,288 486,291.75 490,295.5 491,300.5 495,305.5 500,310.5 502,314 500,318 495,318.6 487.5,319 481,322 477,326.75 474,333 475,339 478.75,343 481,347 482.5,346 483.75,338 486,331.75 491,328 498.75,326 506,328 511,331 518,333 545,320 545,260 520,250 508,253" fill="#90c3dd"/>
<polygon points="427,341 431,335.5 440,329.5 452.5,334 460,336.75 465,340.5 465.6,344 457.5,347.5 450,350 442.5,349 435,347 428.75,343.75" fill="#90c3dd"/>
<polygon points="392.5,380 397,372.5 402,368 406,372.5 408.75,380 408.75,387.5 410.5,394 413,392.5 415.6,385 417,378.75 423.75,377.5 431,375.6 437.5,372 445,370.6 455,370.6 462.5,369 470,366 480,380 460,395 450,396 448.75,398.75 442.5,400.6 435,402.5 427.5,403.75 420,404 415,407 411,410.6 402.5,410 398.75,407.5 401,403.75 402,399 399.5,395 398,392.5 395.6,386" fill="#90c3dd"/>
<polygon points="466,362.5 468.75,358 472,357.5 474,360 467.5,364" fill="#90c3dd"/>
<polygon points="505,292 506,288 509,284 514,281.5 520,280 540,275 545,320 534,320 530,318 523.75,315 517.5,313 513.75,308.6 510,304 507,299" fill="#5183bb"/>
<polygon points="486.3,281 488.75,277.6 493,277.5 496,280.6 495.3,285 492,287.2 487.8,285.8" fill="#5183bb"/>
<polygon points="437,341 440,339 447,340.75 446,343 438.75,342.75" fill="#5183bb"/>
<polygon points="297,175 304,169 316,168 328,170 340,169.6 352,170 364,170 376,170 384,173 389,180 391,188 390,198 391.6,206 388,214 387,227 378,227 368,227 358,229 350,231 341,232 334,229 329,223 325,214 321,206 314,201 306,197 302.4,190 301,182" fill="#a50026"/>
<polygon points="275.6,159 280,158 288,167 282,169.4 275.6,168.4" fill="#a50026"/>
<polygon points="56,226 55,220 60,213 72,203 90,204 106,207 113,212 114,225 114,236 106,246 100,250 50,250" fill="#a50026"/>
<polygon points="436,214 431,213 426,219 423,225 422.5,231 420.6,245 412.5,251 410,255 412.5,259 417.5,262 420,266 425,266 427,261 431,261 437.5,263 447.5,266 453.75,267.5 461,266 462.5,262.5 461,258 457,259 450,262.5 442.5,262.5 435,261 432,257.5 432.5,253.75 437.5,248.75 442.5,243.75 448,237.5 448.75,232.5 450,228 446,221 442,225 436,226 436,216" fill="#a50026"/>
<polygon points="431,200 434,194 439,186 444,183 446,187 441,193 436,198" fill="#a50026"/>
</g>
<use href="#lines"/>
<use href="#outl"/>
<!-- RIGHT MAP -->
<g transform="translate(640,0)">
<g clip-path="url(#be)">
<rect x="0" y="60" width="560" height="447" fill="#f47d4a"/>
<polygon points="35,141 40,146 43,154 46,158 54,167 64,173 74,178 84,184 94,187 104,185 109,180 110,170 111,162 115,158 124,156 136,158 144,159 152,155 156,150 160,144 166,135 172,129 178,123 180,118 180,80 30,80 30,138" fill="#feeca8"/>
<polygon points="207,60 560,60 560,218 433,218 432,219 428,225 422,231 420,233 412,233 410,227 406,223 400,219 395,212 395,205 400,200 405,195 405,187 400,183.6 390,183.6 382,186 376,182 372,176 369,169 360,164 350,160 340,158 326,159 320,164 316,172 312,184 311,193 316,200 319,208 319,218 317,227 312,232 306,234 300,231 294,229 284,230 276,228 268,223 260,218 252,213 244,212 234,215 224,219 218,224 209,234 208,242 204,252 200,261 199,265 198,279 198,295 200,303 206,311 209,315 212,330 150,330 150,300 128,290 128,277 128,270 122,265 118,259 117,247 117,240 120,232 125,224 128,216 129,206 130,196 133,188 140,180 148,175 154,174 162,178 167,186 170,196 176,203 186,207 194,212 200,218 208,219 218,215 222,208 219,200 214,190 208,182 202,172 203,162 206,154 209,142 209,134 207,127" fill="#feeca8"/>
<polygon points="403,256 404,248 408,241 414,238 422,238 426,244 425,252 422,259 414,263 407,261" fill="#feeca8"/>
<polygon points="404,220 410,224 412,232 420,233 422,229 429,224 434,218 420,216" fill="#feeca8"/>
<polygon points="511,304 515,297 522,290 530,288 540,320 520,318 513,311" fill="#feeca8"/>
<polygon points="429,340 432,333 440,329 452,329 462,328 472,323 480,321.6 483,326 482.4,336 480,345 470,347 456,348 440,348 432,345" fill="#feeca8"/>
<polygon points="64,148 68,140 76,130 86,120 98,115.6 110,116 120,119 123,125 120,132 112,138 100,142 90,145 82,150 75,155 68,153" fill="#bbe1ec"/>
<polygon points="232,112 239,102 234,94 260,94 258,101 266,110 274,117 279,122 278,130 268,134 258,136 250,133 243,124 238,116 234,109" fill="#bbe1ec"/>
<polygon points="293,86 297,84 298,80 303,76 308,69 309,85 305,90 298,90.5" fill="#bbe1ec"/>
<polygon points="168,293 174,290 180,289.4 183,294 182.4,303 178,307 171,307 168.4,302" fill="#bbe1ec"/>
<polygon points="398,138.5 399.5,137.2 402.5,137.2 404,138.5 402.5,139.8 399.5,139.8" fill="#bbe1ec"/>
<polygon points="40,204 43,197 50,193 64,193 72,199 83,197.4 90,201 98,208 102,217 104,226 102,240 90,235 70,235 57,245 44,233 48,230 55,226 57,218 52,213 44,210" fill="#a50026"/>
<polygon points="447,231 450,228 464,225 480,225 490,228 495,237 490,244 484,254 478,263 470,271 462,276 454,281 448,284.4 440,284.4 439.4,278 444,270 448,260 450,250 448,240" fill="#a50026"/>
<polygon points="307,320 312,312 322,307.6 334,309 346,310 351,317 349,325 342,331 336,338 330,344 328,352 330,358 322,362 310,370 304,380 303,392 290,398 274,405 274,390 266,384 261,378 263,371 270,365 280,360 292,357 304,353 312,346 314,340 313,338 309,328" fill="#a50026"/>
<polygon points="366,302 370,295 375,292 380,295 383,301 382,306 376,310 369,309" fill="#a50026"/>
<polygon points="442,447 446,439 449,434 458,440 466,450 472,464 464,462 460,456 454,452 448,450" fill="#a50026"/>
<polygon points="454,483 459,478.4 464,480.4 466,486 458,490 456,486" fill="#a50026"/>
</g>
<use href="#lines"/>
<use href="#outl"/>
</g>
<!-- headers -->
<g>
<rect x="6.7" y="5" width="49.5" height="48.2" fill="#0052f0"/>
<path d="M20.2,4.5 C24.5,9 27.2,14.5 28.6,20.5 C29.8,26 29.6,32 28.4,36.5 C27,41 23.6,44.5 21.6,48.5 C20.7,50.3 20.3,52 20.2,53.7 L24,53.7 C24.2,51.5 24.8,49.5 26,47.5 C28.5,43 32.5,39 36,35.5 C38.5,33 40,30.5 40.4,27.5 C40.8,23.5 41.8,20 43.5,17.5 C46,13.5 50,10 56.7,8 L56.7,4.5 Z" fill="#fff"/>
<text x="6.6" y="70.2" font-family="Liberation Sans, sans-serif" font-size="19.4" fill="#0052f0" textLength="49.6" lengthAdjust="spacingAndGlyphs" stroke="#0052f0" stroke-width="0.35">KMI</text>
</g>
<g transform="translate(640,0)"><g>
<rect x="6.7" y="5" width="49.5" height="48.2" fill="#0052f0"/>
<path d="M20.2,4.5 C24.5,9 27.2,14.5 28.6,20.5 C29.8,26 29.6,32 28.4,36.5 C27,41 23.6,44.5 21.6,48.5 C20.7,50.3 20.3,52 20.2,53.7 L24,53.7 C24.2,51.5 24.8,49.5 26,47.5 C28.5,43 32.5,39 36,35.5 C38.5,33 40,30.5 40.4,27.5 C40.8,23.5 41.8,20 43.5,17.5 C46,13.5 50,10 56.7,8 L56.7,4.5 Z" fill="#fff"/>
<text x="6.6" y="70.2" font-family="Liberation Sans, sans-serif" font-size="19.4" fill="#0052f0" textLength="49.6" lengthAdjust="spacingAndGlyphs" stroke="#0052f0" stroke-width="0.35">KMI</text>
</g></g>
<text x="79" y="30.8" font-size="14.68" font-weight="bold" fill="#000">Gemiddelde temperatuur</text>
<text x="78" y="52.1" font-size="12.95" fill="#000">gemiddelde juli 2022</text>
<text x="718.6" y="30.8" font-size="14.68" font-weight="bold" fill="#000">Afwijking van de normaalwaarde van de gemiddelde temperatuur</text>
<text x="718" y="52.1" font-size="12.95" fill="#000">gemiddelde juli 2022 in vergelijking met de maandelijkse normaalwaarde 1991-2020</text>
<!-- legends -->
<rect x="563" y="96.00" width="25.9" height="44.38" fill="#a50026"/><rect x="563" y="139.98" width="25.9" height="44.38" fill="#de3f2e"/><rect x="563" y="183.96" width="25.9" height="44.38" fill="#f98e52"/><rect x="563" y="227.93" width="25.9" height="44.38" fill="#fed484"/><rect x="563" y="271.91" width="25.9" height="44.38" fill="#ffffbf"/><rect x="563" y="315.89" width="25.9" height="44.38" fill="#d3edf4"/><rect x="563" y="359.87" width="25.9" height="44.38" fill="#90c3dd"/><rect x="563" y="403.84" width="25.9" height="44.38" fill="#5183bb"/><rect x="563" y="447.82" width="25.9" height="43.98" fill="#313695"/><text x="601" y="101.9" font-family="Liberation Sans, sans-serif" font-size="14.2" fill="#000">20</text><text x="601" y="145.8" font-family="Liberation Sans, sans-serif" font-size="14.2" fill="#000">19.5</text><text x="601" y="189.7" font-family="Liberation Sans, sans-serif" font-size="14.2" fill="#000">19</text><text x="601" y="233.6" font-family="Liberation Sans, sans-serif" font-size="14.2" fill="#000">18.5</text><text x="601" y="277.5" font-family="Liberation Sans, sans-serif" font-size="14.2" fill="#000">18</text><text x="601" y="321.3" font-family="Liberation Sans, sans-serif" font-size="14.2" fill="#000">17.5</text><text x="601" y="365.2" font-family="Liberation Sans, sans-serif" font-size="14.2" fill="#000">17</text><text x="601" y="409.1" font-family="Liberation Sans, sans-serif" font-size="14.2" fill="#000">16.5</text><text x="601" y="453.0" font-family="Liberation Sans, sans-serif" font-size="14.2" fill="#000">16</text><text x="601" y="496.9" font-family="Liberation Sans, sans-serif" font-size="14.2" fill="#000">15.5</text>
<circle cx="619.7" cy="66.4" r="2.0" fill="none" stroke="#000" stroke-width="1"/><text x="622.9" y="73.7" font-size="14.4" font-weight="bold" fill="#000">C</text>
<rect x="1203" y="96.00" width="25.9" height="99.35" fill="#a50026"/><rect x="1203" y="194.95" width="25.9" height="99.35" fill="#f47d4a"/><rect x="1203" y="293.90" width="25.9" height="99.35" fill="#feeca8"/><rect x="1203" y="392.85" width="25.9" height="98.95" fill="#bbe1ec"/><text x="1241" y="101.9" font-family="Liberation Sans, sans-serif" font-size="14.2" fill="#000">1.5</text><text x="1241" y="200.7" font-family="Liberation Sans, sans-serif" font-size="14.2" fill="#000">1</text><text x="1241" y="299.4" font-family="Liberation Sans, sans-serif" font-size="14.2" fill="#000">0.5</text><text x="1241" y="398.1" font-family="Liberation Sans, sans-serif" font-size="14.2" fill="#000">0</text><text x="1241" y="496.9" font-family="Liberation Sans, sans-serif" font-size="14.2" fill="#000">-0.5</text>
<text x="1198.2" y="73.8" font-size="14.4" font-weight="bold" fill="#000">Verschil</text><circle cx="1260" cy="66.4" r="2.0" fill="none" stroke="#000" stroke-width="1"/><text x="1262.9" y="73.8" font-size="14.4" font-weight="bold" fill="#000">C</text>
</svg>
</body></html>
